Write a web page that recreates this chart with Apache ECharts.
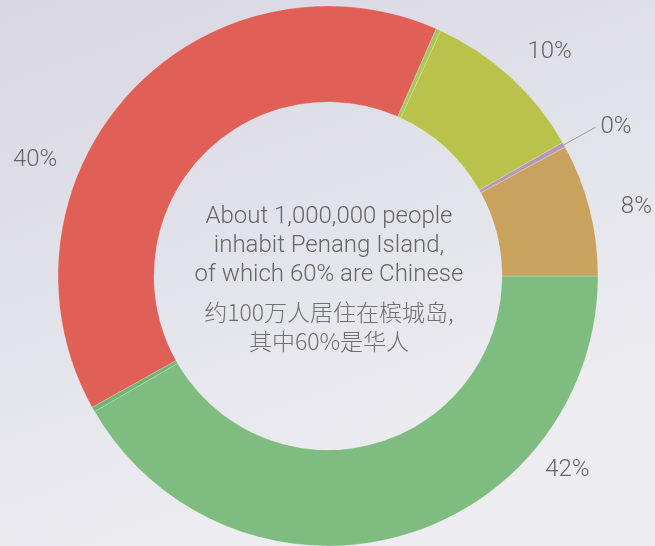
<!DOCTYPE html>
<html>
<head>
<meta charset="utf-8">
<script src="https://cdn.jsdelivr.net/npm/echarts@6/dist/echarts.min.js"></script>
<style>
html,body{margin:0;padding:0;}
#c{width:655px;height:546px;}
</style>
</head>
<body>
<div id="c"></div>
<script>
// ---- data ----
var categories = ['Chinese', 'Other A', 'Malay', 'Other B', 'Indian', 'Other C', 'Others'];
var values = [42, 0.3, 40, 0.3, 10, 0.3, 8];
var colors = ['#7ebc80', '#6fb573', '#e05f57', '#a8c95a', '#b9c24b', '#b59ab6', '#c9a35e'];
var showLabel = [true, false, true, false, true, true, true];
var centerLinesEn = ['About 1,000,000 people', 'inhabit Penang Island,', 'of which 60% are Chinese'];
var centerLinesZh = ['约100万人居住在槟城岛,', '其中60%是华人'];

// label placement (polar, degrees clockwise from east, radius px) for labels without lines
var labelPolar = {0: [39, 308], 2: [201.6, 315], 4: [314.7, 315], 6: [347.4, 316]};

var cx = 328, cy = 276;
var chart = echarts.init(document.getElementById('c'));

var data = categories.map(function (n, i) {
  return {
    name: n,
    value: values[i],
    itemStyle: {color: colors[i]},
    label: {show: showLabel[i]},
    labelLine: {show: i === 5}
  };
});

var graphics = [];
var enY = [217, 246, 275];
centerLinesEn.forEach(function (t, i) {
  graphics.push({
    type: 'text', x: cx + 1, y: enY[i],
    style: {text: t, fill: '#666', font: '300 24px Roboto, "Helvetica Neue", sans-serif',
            textAlign: 'center', textVerticalAlign: 'middle'}
  });
});
var zhY = [312, 341];
centerLinesZh.forEach(function (t, i) {
  graphics.push({
    type: 'text', x: cx + 1, y: zhY[i],
    style: {text: t, fill: '#707070', font: '300 23px "Noto Sans CJK SC", sans-serif',
            textAlign: 'center', textVerticalAlign: 'middle'}
  });
});

chart.setOption({
  backgroundColor: {
    type: 'linear', x: 0, y: 0, x2: 0.3, y2: 1,
    colorStops: [{offset: 0, color: '#d8d7e2'}, {offset: 1, color: '#ececf1'}]
  },
  animation: false,
  graphic: graphics,
  series: [{
    type: 'pie',
    center: [cx, cy],
    radius: [174, 270],
    startAngle: 0,
    clockwise: true,
    avoidLabelOverlap: false,
    itemStyle: {borderColor: 'rgba(255,255,255,0.35)', borderWidth: 0.6},
    label: {
      position: 'outside',
      formatter: function (p) { return Math.round(p.value) + '%'; },
      color: '#666',
      fontSize: 24,
      fontFamily: 'Roboto, "Helvetica Neue", sans-serif',
      fontWeight: 300
    },
    labelLine: {length: 36, length2: 0, smooth: false, lineStyle: {color: '#999', width: 1}},
    labelLayout: function (p) {
      var lp = labelPolar[p.dataIndex];
      if (!lp) { return {}; }
      var a = lp[0] * Math.PI / 180;
      return {x: cx + lp[1] * Math.cos(a), y: cy + lp[1] * Math.sin(a), align: 'center', verticalAlign: 'middle'};
    },
    data: data
  }]
});
</script>
</body>
</html>
